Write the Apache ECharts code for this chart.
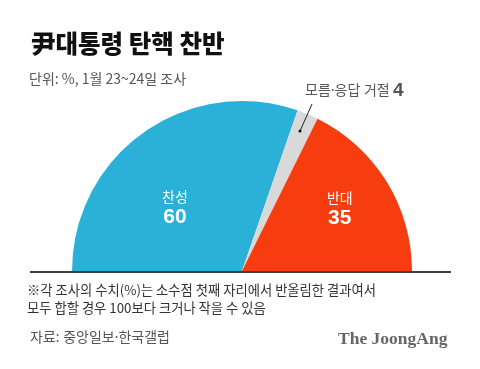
<!DOCTYPE html>
<html>
<head>
<meta charset="utf-8">
<script src="https://cdn.jsdelivr.net/npm/echarts@6/dist/echarts.min.js"></script>
<style>
html,body{margin:0;padding:0;background:#fff;}
#c{width:480px;height:369px;}
</style>
</head>
<body>
<div id="c"></div>
<script>
const categories = ['찬성', '모름·응답 거절', '반대'];
const values = [60, 4, 35];
const colors = ['#2bb0d8', '#d9d9d9', '#f73d0f'];
const titleText = '尹대통령 탄핵 찬반';
const subtitleText = '단위: %, 1월 23~24일 조사';
const noteLines = ['※각 조사의 수치(%)는 소수점 첫째 자리에서 반올림한 결과여서', '모두 합할 경우 100보다 크거나 작을 수 있음'];
const sourceText = '자료: 중앙일보·한국갤럽';
const logoText = 'The JoongAng';

const FONT = '"Noto Sans CJK KR", "Noto Sans", sans-serif';
const DOTFONT = '"Noto Sans", "Noto Sans CJK KR", sans-serif';
const NUMFONT = '"Liberation Sans", Arial, sans-serif';
const chart = echarts.init(document.getElementById('c'), null, {renderer: 'canvas'});

const data = categories.map((name, i) => ({
  name: name,
  value: values[i],
  itemStyle: {color: colors[i]},
  label: i === 1 ? {
    position: 'outside',
    formatter: '{n|{b}} {v|{c}}',
    rich: {
      n: {fontFamily: DOTFONT, fontSize: 14, color: '#555'},
      v: {fontFamily: NUMFONT, fontSize: 19, fontWeight: 'bold', color: '#555'}
    }
  } : {
    position: 'inside',
    formatter: '{n|{b}}\n{v|{c}}'
  }
}));

chart.setOption({
  backgroundColor: '#ffffff',
  animation: false,
  graphic: [
    {type: 'text', left: 31, top: 31, style: {text: titleText, font: '900 24.5px ' + FONT, fill: '#111'}},
    {type: 'text', left: 29, top: 72, style: {text: subtitleText, font: '14px ' + FONT, fill: '#555'}},
    {type: 'line', shape: {x1: 30, y1: 272, x2: 451, y2: 272}, style: {stroke: '#000', lineWidth: 1.5}, z: 10},
    {type: 'line', shape: {x1: 312, y1: 104, x2: 300, y2: 131}, style: {stroke: '#222', lineWidth: 1}, z: 10},
    {type: 'circle', shape: {cx: 300, cy: 131, r: 1.6}, style: {fill: '#111'}, z: 10},
    {type: 'text', left: 27, top: 281, style: {text: noteLines.join('\n'), font: '13.3px ' + FONT, fill: '#333', lineHeight: 18}},
    {type: 'text', left: 30, top: 331, style: {text: sourceText, font: '14px ' + DOTFONT, fill: '#555'}},
    {type: 'text', left: 338, top: 330, style: {text: logoText, font: 'bold 17.5px "Liberation Serif", "DejaVu Serif", serif', fill: '#666'}}
  ],
  series: [{
    type: 'pie',
    center: [242, 271],
    radius: [0, 170],
    startAngle: 180,
    endAngle: 0,
    clockwise: true,
    silent: true,
    labelLine: {show: false},
    label: {
      color: '#fff',
      rich: {
        n: {fontFamily: FONT, fontSize: 14, color: '#fff', lineHeight: 20},
        v: {fontFamily: NUMFONT, fontSize: 21, fontWeight: 'bold', color: '#fff', lineHeight: 22}
      }
    },
    labelLayout: function (p) {
      if (p.dataIndex === 0) return {dx: -16, dy: 8};
      if (p.dataIndex === 2) return {dx: 23, dy: -16};
      return {x: 305, y: 91, align: 'left', verticalAlign: 'middle'};
    },
    data: data
  }]
});
</script>
</body>
</html>
